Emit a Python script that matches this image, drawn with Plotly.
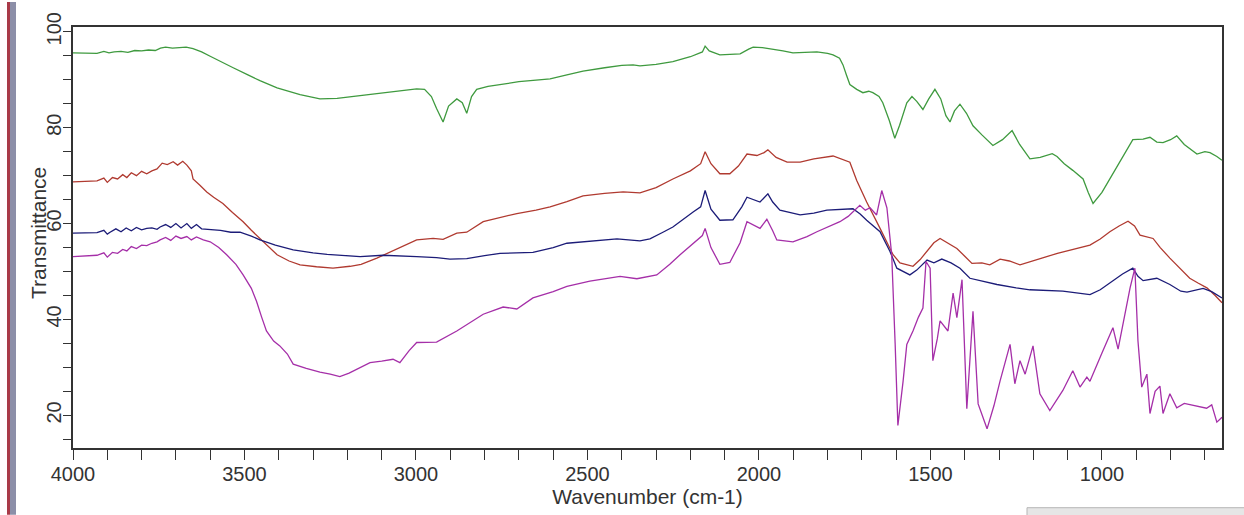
import plotly.graph_objects as go

# ---------------- data ----------------
green_wn = [4000, 3960, 3930, 3910, 3895, 3880, 3860, 3840, 3820, 3800, 3780, 3760, 3745, 3730, 3710, 3690, 3670, 3650,
            3625, 3600, 3570, 3533, 3490, 3455, 3405, 3370, 3338, 3280, 3230, 3163, 3100, 3040, 2998, 2975, 2955, 2940,
            2921, 2905, 2881, 2865, 2852, 2838, 2823, 2790, 2755, 2700, 2650, 2609, 2560, 2513, 2450, 2400, 2367, 2347,
            2300, 2251, 2200, 2165, 2157, 2145, 2114, 2080, 2055, 2030, 2017, 1990, 1959, 1930, 1901, 1860, 1831, 1800,
            1784, 1765, 1755, 1745, 1735, 1715, 1697, 1680, 1668, 1650, 1639, 1620, 1604, 1590, 1569, 1554, 1540, 1522,
            1505, 1487, 1470, 1455, 1443, 1430, 1414, 1395, 1376, 1350, 1318, 1290, 1262, 1240, 1210, 1180, 1161, 1145,
            1131, 1110, 1085, 1055, 1040, 1026, 1000, 968, 940, 910, 880, 860, 840, 822, 800, 782, 760, 740, 723, 700,
            685, 665, 650]
green_t = [95.6, 95.6, 95.5, 95.9, 95.6, 95.8, 95.9, 95.7, 96.1, 96.0, 96.2, 96.1, 96.6, 96.8, 96.6, 96.7, 96.8, 96.5,
           95.8, 94.9, 93.9, 92.5, 91.0, 89.8, 88.3, 87.5, 86.9, 86.0, 86.1, 86.7, 87.2, 87.8, 88.1, 88.0, 86.5, 84.0,
           81.2, 84.5, 86.0, 85.2, 83.0, 86.5, 88.0, 88.6, 89.0, 89.6, 89.9, 90.2, 91.0, 91.8, 92.5, 93.0, 93.1, 92.9,
           93.2, 93.8, 94.8, 95.8, 97.0, 96.0, 95.2, 95.3, 95.4, 96.4, 96.8, 96.7, 96.4, 96.0, 95.6, 95.7, 95.8, 95.5,
           95.2, 94.5, 93.1, 91.0, 89.0, 88.0, 87.3, 87.6, 87.3, 86.5, 85.2, 81.5, 77.8, 80.5, 85.2, 86.5, 85.5, 83.8,
           86.0, 88.0, 86.0, 82.5, 81.2, 83.5, 84.9, 83.0, 80.4, 78.5, 76.3, 77.5, 79.4, 76.5, 73.5, 73.8, 74.2, 74.6,
           74.0, 72.5, 71.1, 69.3, 66.5, 64.2, 66.5, 70.4, 74.0, 77.5, 77.6, 78.0, 77.0, 76.9, 77.5, 78.3, 76.5, 75.5,
           74.5, 75.0, 74.8, 74.0, 73.2]

red_wn = [4000, 3960, 3930, 3910, 3900, 3885, 3870, 3855, 3843, 3830, 3815, 3800, 3785, 3770, 3755, 3740, 3725, 3708,
          3695, 3680, 3668, 3655, 3650, 3630, 3610, 3590, 3563, 3535, 3504, 3480, 3455, 3430, 3405, 3370, 3338, 3290,
          3242, 3192, 3160, 3114, 3060, 2998, 2950, 2921, 2881, 2852, 2804, 2750, 2706, 2650, 2609, 2560, 2513, 2450,
          2396, 2347, 2300, 2251, 2200, 2170, 2157, 2140, 2114, 2085, 2060, 2035, 2006, 1985, 1974, 1950, 1918, 1880,
          1840, 1784, 1760, 1735, 1715, 1686, 1647, 1609, 1589, 1551, 1530, 1510, 1490, 1472, 1450, 1423, 1400, 1379,
          1350, 1327, 1297, 1270, 1239, 1200, 1161, 1130, 1093, 1060, 1035, 1005, 977, 950, 924, 905, 889, 851, 830,
          802, 770, 744, 720, 694, 670, 650]
red_t = [68.7, 68.8, 68.9, 69.5, 68.6, 69.6, 69.3, 70.2, 69.6, 70.6, 70.0, 70.9, 70.4, 71.0, 71.4, 72.6, 72.3, 72.9,
         72.2, 73.0, 72.2, 71.0, 69.3, 68.0, 66.6, 65.5, 64.2, 62.3, 60.4, 58.6, 56.9, 55.0, 53.5, 52.2, 51.4, 51.0,
         50.7, 51.1, 51.5, 52.8, 54.6, 56.6, 56.9, 56.7, 58.0, 58.2, 60.4, 61.3, 62.1, 62.8, 63.5, 64.6, 65.8, 66.3,
         66.6, 66.4, 67.5, 69.3, 71.0, 72.5, 75.0, 72.5, 70.4, 70.4, 72.0, 74.5, 74.2, 74.8, 75.4, 73.8, 72.8, 72.8,
         73.5, 74.1, 73.5, 72.8, 69.0, 64.5, 59.0, 53.5, 51.8, 51.1, 52.5, 54.2, 56.0, 56.9, 56.0, 54.8, 53.2, 51.7,
         51.8, 51.4, 52.6, 52.2, 51.4, 52.2, 53.1, 53.8, 54.5, 55.0, 55.5, 56.8, 58.3, 59.5, 60.5, 59.5, 57.6, 56.9, 55.0,
         52.8, 50.5, 48.6, 47.6, 46.6, 45.0, 43.5]

blue_wn = [4000, 3960, 3930, 3910, 3900, 3892, 3875, 3860, 3845, 3830, 3815, 3800, 3785, 3770, 3755, 3746, 3730, 3715,
           3700, 3685, 3668, 3655, 3640, 3625, 3600, 3570, 3540, 3513, 3480, 3455, 3410, 3358, 3300, 3259, 3163, 3096,
           2998, 2940, 2901, 2852, 2800, 2755, 2659, 2600, 2560, 2500, 2414, 2347, 2318, 2280, 2251, 2192, 2170, 2157,
           2140, 2114, 2076, 2050, 2035, 1997, 1974, 1960, 1939, 1880, 1840, 1802, 1760, 1726, 1705, 1686, 1647, 1618,
           1598, 1575, 1560, 1540, 1510, 1490, 1467, 1440, 1414, 1385, 1350, 1306, 1250, 1210, 1114, 1060, 1035, 1005,
           977, 940, 910, 895, 880, 840, 802, 770, 752, 705, 680, 650]
blue_t = [58.0, 58.0, 58.1, 58.6, 57.8, 58.2, 58.9, 58.3, 59.1, 58.5, 59.2, 58.7, 59.0, 59.1, 58.8, 59.3, 59.8, 59.2,
          60.0, 59.1, 60.0, 59.0, 59.8, 58.9, 58.7, 58.6, 58.2, 58.2, 57.4, 56.6, 55.5, 54.5, 53.9, 53.6, 53.1, 53.4,
          53.1, 52.9, 52.6, 52.7, 53.3, 53.8, 54.0, 55.0, 55.9, 56.3, 56.8, 56.4, 56.8, 58.2, 59.3, 62.4, 63.5, 66.9,
          63.0, 60.7, 60.8, 63.5, 65.5, 64.5, 66.2, 64.5, 62.8, 61.8, 62.2, 62.8, 63.0, 63.1, 62.0, 60.7, 58.3, 54.2,
          50.7, 49.8, 49.3, 50.3, 52.4, 51.8, 52.6, 51.8, 50.7, 48.6, 48.0, 47.3, 46.6, 46.2, 45.9, 45.5, 45.2, 46.2,
          47.6, 49.5, 50.7, 49.0, 48.1, 48.6, 47.3, 45.9, 45.7, 46.5, 45.8, 44.5]

magenta_wn = [4000, 3960, 3930, 3910, 3900, 3885, 3870, 3855, 3843, 3830, 3815, 3800, 3785, 3770, 3755, 3746, 3730,
              3715, 3700, 3685, 3668, 3655, 3640, 3620, 3600, 3575, 3552, 3525, 3504, 3480, 3465, 3450, 3436, 3415,
              3397, 3375, 3358, 3320, 3280, 3250, 3222, 3195, 3163, 3134, 3100, 3067, 3047, 3020, 2998, 2940, 2881,
              2840, 2804, 2746, 2706, 2659, 2600, 2560, 2493, 2405, 2356, 2298, 2260, 2230, 2190, 2165, 2157, 2140,
              2114, 2085, 2055, 2035, 1997, 1977, 1960, 1948, 1901, 1860, 1831, 1764, 1740, 1706, 1690, 1676, 1657,
              1642, 1627, 1613, 1603, 1595, 1580, 1569, 1551, 1535, 1522, 1513, 1501, 1493, 1480, 1472, 1449, 1434,
              1423, 1408, 1394, 1376, 1361, 1335, 1315, 1297, 1268, 1254, 1239, 1224, 1201, 1181, 1152, 1114, 1085,
              1064, 1044, 1035, 1000, 968, 953, 918, 904, 895, 884, 869, 860, 845, 831, 822, 802, 782, 760, 723, 695,
              680, 665, 650]
magenta_t = [53.1, 53.2, 53.4, 53.9, 53.0, 54.0, 53.8, 54.6, 54.3, 55.2, 54.8, 55.5, 55.4, 55.9, 56.2, 56.6, 57.1,
             56.5, 57.4, 56.9, 57.3, 56.6, 57.2, 56.6, 56.2, 55.0, 53.5, 51.5, 49.3, 46.5, 43.8, 40.5, 37.6, 35.5,
             34.5, 32.8, 30.7, 29.8, 29.0, 28.6, 28.1, 28.8, 30.0, 31.0, 31.3, 31.7, 31.0, 33.5, 35.2, 35.3, 37.6,
             39.4, 41.1, 42.6, 42.2, 44.5, 45.8, 46.9, 48.0, 49.0, 48.5, 49.3, 51.5, 53.5, 56.0, 57.5, 59.0, 55.0,
             51.5, 51.9, 56.0, 60.4, 59.0, 60.9, 58.5, 56.6, 56.2, 57.3, 58.3, 60.4, 61.5, 63.8, 62.8, 63.3, 61.8,
             66.9, 63.3, 53.5, 35.0, 17.9, 27.0, 34.8, 37.6, 40.5, 42.4, 52.1, 50.7, 31.4, 36.0, 39.7, 37.6, 45.5,
             40.4, 48.3, 21.4, 41.7, 22.4, 17.2, 22.0, 27.2, 34.8, 26.6, 31.4, 28.6, 34.5, 24.5, 21.0, 25.2, 29.3,
             25.9, 28.0, 27.1, 33.0, 38.3, 33.8, 46.6, 50.7, 35.5, 25.9, 28.6, 20.4, 25.0, 26.1, 20.4, 24.5, 21.6,
             22.5, 21.9, 21.5, 22.2, 18.6, 19.6]

x_tick_vals = list(range(700, 4001, 100))
x_tick_text = [str(v) if v % 500 == 0 else "" for v in x_tick_vals]
y_tick_vals = list(range(15, 101, 5))
y_tick_text = [str(v) if v % 20 == 0 else "" for v in y_tick_vals]

# ---------------- figure ----------------
W, H = 1244, 515
ML, MR, MT, MB = 73, 22, 25, 67
PW, PH = W - ML - MR, H - MT - MB


def px_x(p):
    return (p - ML) / PW


def px_y(p):
    return (H - MB - p) / PH


fig = go.Figure()
series = [
    (green_wn, green_t, "#3f9a3f"),
    (red_wn, red_t, "#b03a30"),
    (blue_wn, blue_t, "#1c1c78"),
    (magenta_wn, magenta_t, "#a52fa8"),
]
for wn, t, col in series:
    fig.add_trace(go.Scatter(x=wn, y=t, mode="lines", line=dict(color=col, width=1.3),
                             showlegend=False, hoverinfo="skip"))

FAM = "Liberation Sans, Arial, sans-serif"
tick_font = dict(family=FAM, size=20, color="#333333")
title_font = dict(family=FAM, size=21, color="#333333")

fig.update_layout(
    width=W, height=H,
    margin=dict(l=ML, r=MR, t=MT, b=MB, pad=0),
    paper_bgcolor="white", plot_bgcolor="white",
    font=tick_font,
    xaxis=dict(range=[4000, 650], showgrid=False, zeroline=False,
               showline=True, linecolor="#333333", linewidth=1.5, mirror=True,
               ticks="outside", ticklen=10, tickwidth=1.2, tickcolor="#333333",
               tickmode="array", tickvals=x_tick_vals, ticktext=x_tick_text,
               tickfont=tick_font, ticklabelstandoff=-3,
               title=dict(text="Wavenumber (cm-1)", font=title_font, standoff=0)),
    yaxis=dict(range=[13.2, 101], showgrid=False, zeroline=False,
               showline=True, linecolor="#333333", linewidth=1.5, mirror=True,
               ticks="outside", ticklen=8, tickwidth=1.2, tickcolor="#333333",
               tickmode="array", tickvals=y_tick_vals, ticktext=y_tick_text,
               tickangle=-90, tickfont=tick_font, ticklabelstandoff=-6),
    annotations=[dict(text="Transmittance", textangle=-90, xref="paper", yref="paper",
                      x=px_x(38), y=px_y(232), showarrow=False, font=title_font,
                      xanchor="center", yanchor="middle")],
    shapes=[
        dict(type="rect", xref="paper", yref="paper", x0=px_x(7), x1=px_x(10),
             y0=px_y(H), y1=px_y(0), fillcolor="#a83a48", line=dict(width=0), layer="above"),
        dict(type="rect", xref="paper", yref="paper", x0=px_x(10), x1=px_x(16),
             y0=px_y(H), y1=px_y(0), fillcolor="#8c8fa8", line=dict(width=0), layer="above"),
        dict(type="rect", xref="paper", yref="paper", x0=px_x(1027), x1=px_x(1250),
             y0=px_y(H + 5), y1=px_y(508), fillcolor="#e6e6e6",
             line=dict(width=1, color="#b5b5b5"), layer="above"),
    ],
)

fig.write_html("out.html")
